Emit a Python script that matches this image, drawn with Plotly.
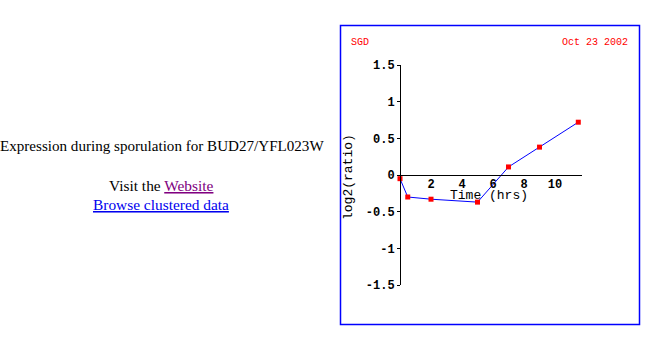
import plotly.graph_objects as go

# Data
time_hrs = [0, 0.5, 2, 5, 7, 9, 11.5]
log2_ratio = [-0.05, -0.30, -0.33, -0.37, 0.11, 0.38, 0.72]
x_ticks = [2, 4, 6, 8, 10]
y_ticks = [-1.5, -1, -0.5, 0, 0.5, 1, 1.5]
y_tick_labels = ["-1.5", "-1", "-0.5", "0", "0.5", "1", "1.5"]

W, H = 667, 341

def px(x):
    return x / W

def py(y):
    return (H - y) / H

mono = "Liberation Mono, Courier New, monospace"
serif = "Liberation Serif, Times New Roman, serif"

fig = go.Figure()
fig.add_trace(go.Scatter(
    x=time_hrs, y=log2_ratio, mode="lines+markers",
    line=dict(color="#0000ff", width=1),
    marker=dict(symbol="square", size=5, color="#ff0000", line=dict(width=0)),
    hoverinfo="x+y", showlegend=False, cliponaxis=False,
))

fig.update_layout(
    width=W, height=H, margin=dict(l=0, r=0, t=0, b=0, pad=0, autoexpand=False),
    paper_bgcolor="white", plot_bgcolor="rgba(0,0,0,0)",
    xaxis=dict(
        domain=[px(400), px(581.7)], range=[0, 11.72],
        anchor="free", position=py(175), automargin=False,
        showline=True, linecolor="black", linewidth=1,
        showgrid=False, zeroline=False,
        tickvals=x_ticks, ticks="", ticklabelstandoff=-2,
        tickfont=dict(family=mono, size=12, color="black", weight="bold"),
        fixedrange=True,
    ),
    yaxis=dict(
        domain=[py(285), py(65)], range=[-1.5, 1.5],
        anchor="free", position=px(400), automargin=False,
        showline=True, linecolor="black", linewidth=1,
        showgrid=False, zeroline=False,
        tickvals=y_ticks, ticktext=y_tick_labels,
        ticks="outside", ticklen=3, tickcolor="black",
        tickfont=dict(family=mono, size=12, color="black", weight="bold"),
        fixedrange=True,
    ),
)

# Frame
fig.add_shape(type="rect", xref="paper", yref="paper",
              x0=px(340.5), x1=px(639.5), y0=py(324.5), y1=py(25.5),
              line=dict(color="#0000ff", width=1.5))

ann = []
ann.append(dict(text="SGD", x=px(349), y=py(42), xanchor="left", yanchor="middle",
                font=dict(family=mono, size=10, color="#ff0000")))
ann.append(dict(text="Oct 23 2002", x=px(630), y=py(42), xanchor="right", yanchor="middle",
                font=dict(family=mono, size=10, color="#ff0000")))
ann.append(dict(text="Time (hrs)", x=px(489), y=py(196), xanchor="center", yanchor="middle",
                font=dict(family=mono, size=13, color="black")))
ann.append(dict(text="log2(ratio)", x=px(348), y=py(177), xanchor="center", yanchor="middle",
                textangle=-90, font=dict(family=mono, size=13, color="black")))
ann.append(dict(text="Expression during sporulation for BUD27/YFL023W", x=px(161.5), y=py(146),
                xanchor="center", yanchor="middle",
                font=dict(family=serif, size=15.1, color="black")))
ann.append(dict(text="Visit the <span style='color:#800080'><u>Website</u></span>",
                x=px(161), y=py(185), xanchor="center", yanchor="middle",
                font=dict(family=serif, size=15.4, color="black")))
ann.append(dict(text="<u>Browse clustered data</u>", x=px(161), y=py(204),
                xanchor="center", yanchor="middle",
                font=dict(family=serif, size=15.4, color="#0000ee")))
for a in ann:
    a.update(xref="paper", yref="paper", showarrow=False)
fig.update_layout(annotations=ann)

fig.write_html("out.html", config={"displayModeBar": False})
